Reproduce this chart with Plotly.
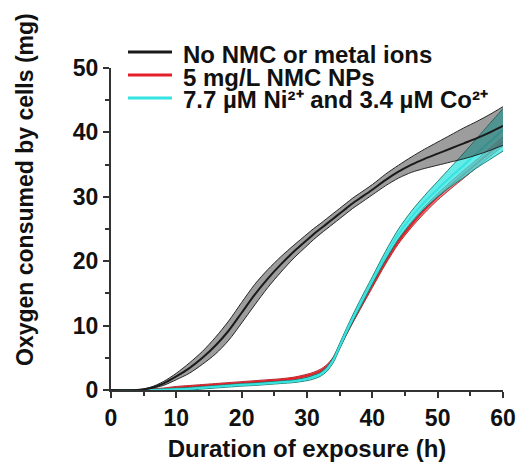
import plotly.graph_objects as go

# ---------------- data ----------------
hours = [0, 4, 6, 8, 10, 12, 14, 16, 18, 20, 22, 24, 26, 28, 30, 31, 32, 33, 34,
         35, 36, 37, 38, 40, 42, 44, 46, 48, 50, 52, 54, 56, 58, 60]

control_mean = [0, 0, 0.3, 1.0, 2.1, 3.4, 5.0, 6.9, 9.2, 12.0, 14.8, 17.3, 19.5, 21.5,
                23.3, 24.2, 25.0, 25.8, 26.6, 27.4, 28.2, 29.0, 29.7, 31.1, 32.6,
                33.9, 35.0, 35.9, 36.7, 37.5, 38.3, 39.1, 40.0, 41.0]
control_sd = [0, 0, 0.1, 0.3, 0.5, 0.8, 1.0, 1.3, 1.5, 1.6, 1.6, 1.4, 1.2, 1.0,
              0.9, 0.85, 0.8, 0.8, 0.8, 0.8, 0.8, 0.8, 0.8, 0.8, 0.9,
              1.0, 1.2, 1.5, 1.8, 2.1, 2.4, 2.6, 2.8, 3.0]

nmc_mean = [0, 0, 0.05, 0.15, 0.35, 0.5, 0.65, 0.8, 0.95, 1.1, 1.25, 1.4, 1.55, 1.8,
            2.2, 2.5, 2.9, 3.6, 4.8, 6.8, 8.8, 10.7, 12.6, 16.3, 19.9,
            23.1, 25.7, 28.0, 30.0, 31.8, 33.5, 35.2, 36.9, 38.6]
nmc_sd = [0, 0, 0.1, 0.15, 0.2, 0.2, 0.2, 0.2, 0.2, 0.2, 0.2, 0.2, 0.2, 0.2,
          0.25, 0.25, 0.3, 0.3, 0.3, 0.3, 0.3, 0.3, 0.35, 0.4, 0.4,
          0.4, 0.45, 0.5, 0.5, 0.55, 0.6, 0.6, 0.65, 0.7]

ion_mean = [0, 0, 0, 0.05, 0.1, 0.2, 0.35, 0.5, 0.65, 0.8, 0.9, 1.05, 1.2, 1.35,
            1.7, 2.0, 2.4, 3.2, 4.6, 6.8, 9.0, 11.1, 13.1, 17.0, 20.8,
            24.2, 26.9, 29.2, 31.2, 33.1, 34.9, 36.8, 38.6, 40.4]
ion_sd = [0, 0, 0.1, 0.15, 0.2, 0.2, 0.2, 0.2, 0.2, 0.2, 0.2, 0.2, 0.2, 0.2,
          0.25, 0.3, 0.3, 0.35, 0.4, 0.45, 0.5, 0.55, 0.6, 0.6, 0.7,
          0.8, 0.9, 1.0, 1.2, 1.5, 1.9, 2.3, 2.8, 3.3]

legend_labels = ["No NMC or metal ions",
                 "5 mg/L NMC NPs",
                 "7.7 µM Ni²⁺ and 3.4 µM Co²⁺"]
x_title = "Duration of exposure (h)"
y_title = "Oxygen consumed by cells (mg)"

# ---------------- styling ----------------
FONT = "Arial, 'Liberation Sans', Helvetica, sans-serif"
series = [
    # (mean, sd, line colour, fill colour, edge colour)
    (nmc_mean, nmc_sd, "#e3202a", "rgba(235,40,45,0.55)", "rgba(170,20,25,0.9)"),
    (ion_mean, ion_sd, "#35e3e0", "rgba(50,230,225,0.75)", "rgba(20,120,110,0.9)"),
    (control_mean, control_sd, "#1a1a1a", "rgba(60,60,60,0.5)", "rgba(20,20,20,0.9)"),
]

fig = go.Figure()
for mean, sd, lc, fc, ec in series:
    upper = [m + s for m, s in zip(mean, sd)]
    lower = [max(m - s, 0) for m, s in zip(mean, sd)]
    fig.add_trace(go.Scatter(x=hours, y=lower, mode="lines",
                             line=dict(color=ec, width=1, shape="spline", smoothing=0.8),
                             showlegend=False, hoverinfo="skip"))
    fig.add_trace(go.Scatter(x=hours, y=upper, mode="lines", fill="tonexty",
                             fillcolor=fc,
                             line=dict(color=ec, width=1, shape="spline", smoothing=0.8),
                             showlegend=False, hoverinfo="skip"))
    fig.add_trace(go.Scatter(x=hours, y=mean, mode="lines",
                             line=dict(color=lc, width=2, shape="spline", smoothing=0.8),
                             showlegend=False))

# page body offset (default 8px body margin) -> figure is shifted by OFF in the window
OFF = 8
WIN_W, WIN_H = 525, 462
PLOT_L, PLOT_R, PLOT_T, PLOT_B = 111, 503, 68, 390   # window pixels of the plot area
W, H = WIN_W - OFF, WIN_H - OFF
L, T = PLOT_L - OFF, PLOT_T - OFF
R, B = WIN_W - PLOT_R, WIN_H - PLOT_B
pw, ph = PLOT_R - PLOT_L, PLOT_B - PLOT_T

def px2paper(x, y):
    return (x - PLOT_L) / pw, (PLOT_B - y) / ph

legend_rows_y = [54, 77, 100]
legend_cols = ["#1a1a1a", "#e3202a", "#35e3e0"]
for lab, col, ry in zip(legend_labels, legend_cols, legend_rows_y):
    x0, yy = px2paper(128, ry - 2)
    x1, _ = px2paper(172, ry - 2)
    fig.add_shape(type="line", xref="paper", yref="paper", x0=x0, x1=x1, y0=yy, y1=yy,
                  line=dict(color=col, width=3))
    tx, ty = px2paper(181, ry)
    fig.add_annotation(xref="paper", yref="paper", x=tx, y=ty, text=lab,
                       showarrow=False, xanchor="left", yanchor="middle",
                       font=dict(family=FONT, size=24, color="#111", weight="bold"))

# y-axis title as annotation
ax, ay = px2paper(25, 190)
fig.add_annotation(xref="paper", yref="paper", x=ax, y=ay, text=y_title,
                   textangle=-90, showarrow=False, xanchor="center", yanchor="middle",
                   font=dict(family=FONT, size=23, color="#111", weight="bold"))

axis_common = dict(
    showgrid=False, zeroline=False, showline=True, linecolor="#333", linewidth=2,
    ticks="outside", ticklen=6, tickwidth=2, tickcolor="#333", automargin=False,
    tickfont=dict(family=FONT, size=23, color="#111", weight="bold"),
)
fig.update_xaxes(range=[0, 60], dtick=10, tick0=0,
                 minor=dict(dtick=5, ticks="outside", ticklen=4, tickwidth=1.5, tickcolor="#333"),
                 title=dict(text=x_title, standoff=12,
                            font=dict(family=FONT, size=24, color="#111", weight="bold")),
                 **axis_common)
fig.update_yaxes(range=[0, 50], dtick=10, tick0=0,
                 minor=dict(dtick=5, ticks="outside", ticklen=4, tickwidth=1.5, tickcolor="#333"),
                 **axis_common)

fig.update_layout(width=W, height=H, margin=dict(l=L, r=R, t=T, b=B),
                  plot_bgcolor="white", paper_bgcolor="white", showlegend=False)

fig.write_html("out.html")
